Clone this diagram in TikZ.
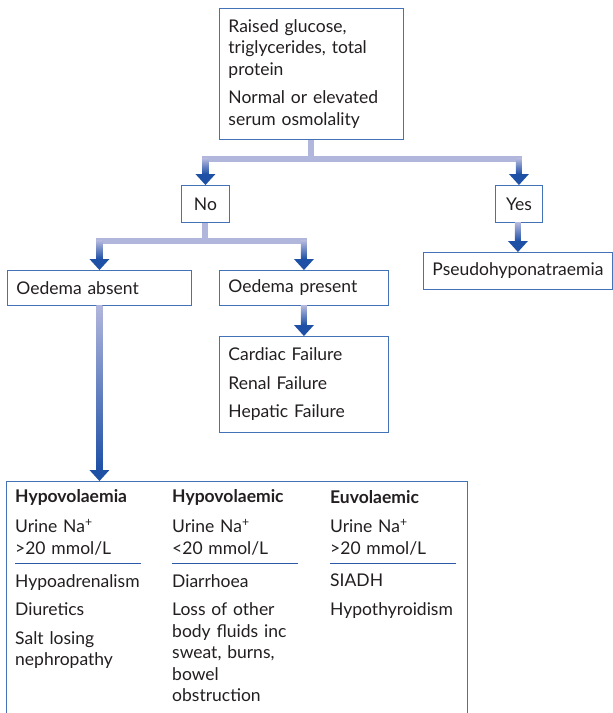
\documentclass[tikz,border=0pt]{standalone}
\usepackage{fontspec}
\setmainfont{Lato}
\usepackage{tikz}
\usetikzlibrary{positioning,calc}

\definecolor{boxblue}{HTML}{4372B6}
\definecolor{linklight}{HTML}{B1B6DC}
\definecolor{linkdark}{HTML}{1E50A6}
\definecolor{ruleblue}{HTML}{2B5BA8}
\definecolor{txtgray}{HTML}{231F20}

\newcommand{\bodyfont}{\fontsize{17.5}{21.5}\selectfont}
% shaded stem plus head, from the level of #1 down to the point #2
\newcommand{\arrowdown}[2]{%
  \shade[top color=linklight,bottom color=linkdark]
    ($(#2 |- #1)+(-3pt,0)$) rectangle ($(#2)+(3pt,11pt)$);
  \fill[linkdark] ($(#2)+(-10pt,11pt)$) -- ($(#2)+(10pt,11pt)$) -- (#2) -- cycle;}

\begin{document}
\begin{tikzpicture}[x=1pt,y=-1pt,
    box/.style={draw=boxblue, line width=0.9pt, fill=white, anchor=north west,
      align=left, inner xsep=9pt, inner ysep=0pt, font=\bodyfont, text=txtgray},
    col/.style={anchor=north west, align=left, text width=130pt, inner sep=0pt,
      font=\bodyfont, text=txtgray},
    link/.style={linklight, line width=6pt},
    sep/.style={ruleblue, line width=0.8pt}]
  \useasboundingbox (0,0) rectangle (613,713);

  \node[box, text width=166pt, minimum height=131pt] (cond) at (219,8)
    {Raised glucose,\\triglycerides, total\\protein\\[7pt]Normal or elevated\\serum osmolality};
  \node[box, align=center, text width=30pt, minimum height=37pt] (no) at (181,185) {No};
  \node[box, align=center, text width=29pt, minimum height=37pt] (yes) at (495,185) {Yes};
  \node[box, text width=171pt, minimum height=37pt] (pseudo) at (423,252) {Pseudohyponatraemia};
  \node[box, text width=166pt, minimum height=35pt] (absent) at (7,270) {Oedema absent};
  \node[box, text width=151pt, minimum height=35pt] (present) at (219,270) {Oedema present};
  \node[box, text width=151pt, minimum height=96pt] (failure) at (219,336)
    {Cardiac Failure\\[7pt]Renal Failure\\[7pt]Hepatic Failure};
  \node[box, minimum width=461pt, minimum height=245pt] (causes) at (6,481) {};

  % the three columns of the table
  \node[col, anchor=west] (head1) at (15,497) {\bfseries Hypovolaemia};
  \node[col] (urine1) at (15,519) {Urine Na\textsuperscript{+}\\>20 mmol/L};
  \node[col] (list1) at (15,574) {Hypoadrenalism\\[7pt]Diuretics\\[7pt]Salt losing\\nephropathy};
  \node[col, anchor=west] (head2) at (172,497) {\bfseries Hypovolaemic};
  \node[col] (urine2) at (172,519) {Urine Na\textsuperscript{+}\\<20 mmol/L};
  \node[col] (list2) at (172,574)
    {Diarrhoea\\[7pt]Loss of other\\body fluids inc\\sweat, burns,\\bowel\\obstruction};
  \node[col, anchor=west] (head3) at (330,497) {\bfseries Euvolaemic};
  \node[col] (urine3) at (330,519) {Urine Na\textsuperscript{+}\\>20 mmol/L};
  \node[col] (list3) at (330,574) {SIADH\\[7pt]Hypothyroidism};
  \draw[sep] (15,563) -- ++(126,0);
  \draw[sep] (172,563) -- ++(126,0);
  \draw[sep] (330,563) -- ++(126,0);

  % connectors
  \draw[link] (cond.south) -- ++(0,19) coordinate (b1);
  \draw[link, line cap=rect] (no.north |- b1) -- (yes.north |- b1);
  \arrowdown{b1}{no.north}
  \arrowdown{b1}{yes.north}
  \draw[link] (no.south) -- ++(0,18) coordinate (b2);
  \draw[link, line cap=rect] (absent.north |- b2) -- (present.north |- b2);
  \arrowdown{b2}{absent.north}
  \arrowdown{b2}{present.north}
  \arrowdown{yes.south}{pseudo.north}
  \arrowdown{present.south}{failure.north}
  \coordinate (intab) at (absent.south |- causes.north);
  \arrowdown{absent.south}{intab}
\end{tikzpicture}
\end{document}
